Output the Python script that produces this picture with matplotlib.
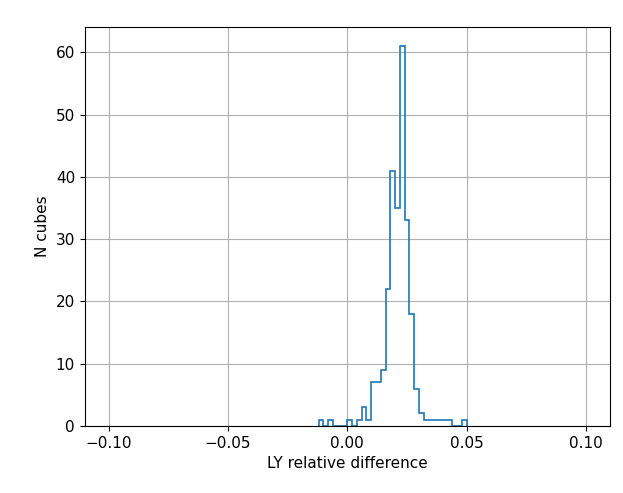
import numpy as np
import matplotlib
matplotlib.use("Agg")
import matplotlib.pyplot as plt
from matplotlib.ticker import MultipleLocator

# bins 0.002 wide; only the span holding data (-0.012 .. 0.050)
edges = np.linspace(-0.012, 0.050, 32)

# non-empty bins (left edge -> count)
bin_left = [-0.012, -0.008,
            0.000, 0.004, 0.006, 0.008, 0.010, 0.012, 0.014, 0.016, 0.018,
            0.020, 0.022, 0.024, 0.026, 0.028, 0.030,
            0.032, 0.034, 0.036, 0.038, 0.040, 0.042, 0.048]
bin_count = [1, 1,
             1, 1, 3, 1, 7, 7, 9, 22, 41,
             35, 61, 33, 18, 6, 2,
             1, 1, 1, 1, 1, 1, 1]

centres = np.array(bin_left) + 0.001

fig = plt.figure(figsize=(6.23, 4.93), dpi=100)
ax = fig.add_axes([0.136, 0.136, 0.843, 0.809])
ax.hist(centres, bins=edges, weights=bin_count, histtype="step", linewidth=1.2)
ax.set_xlim(-0.11, 0.11)
ax.xaxis.set_major_locator(MultipleLocator(0.05))
ax.grid(True)
ax.set_xlabel("LY relative difference", fontsize=11)
ax.set_ylabel("N cubes", fontsize=11)
ax.tick_params(labelsize=11)

fig.savefig("out.png", dpi=100)
